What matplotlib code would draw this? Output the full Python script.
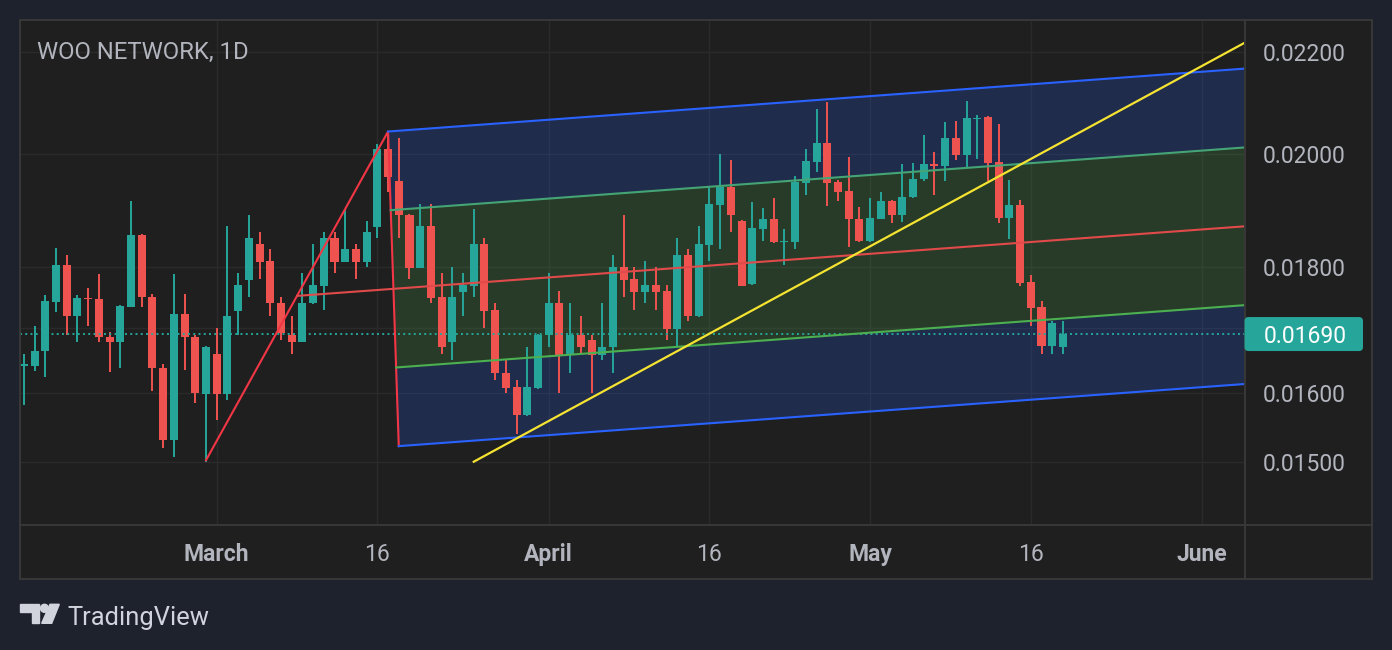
import numpy as np
import pandas as pd
import matplotlib
matplotlib.use("Agg")
import matplotlib.pyplot as plt
import matplotlib.dates as mdates
import matplotlib.transforms as mtransforms
from matplotlib.patches import FancyBboxPatch, Rectangle, Polygon, Ellipse
from matplotlib.lines import Line2D
from matplotlib.ticker import NullLocator, NullFormatter

plt.rcParams['font.family'] = ['Roboto', 'DejaVu Sans']

# WOO NETWORK daily candles
dates = pd.date_range("2024-02-12", "2024-05-19", freq="D")
opens = [0.01641, 0.01641, 0.01663, 0.01742, 0.01803, 0.01718, 0.01748, 0.01747, 0.01686, 0.01678,
         0.01734, 0.01854, 0.01750, 0.01638, 0.01531, 0.01722, 0.01686, 0.01598, 0.01659, 0.01598,
         0.01727, 0.01778, 0.01839, 0.01810, 0.01740, 0.01689, 0.01678, 0.01739, 0.01768, 0.01849,
         0.01808, 0.01830, 0.01808, 0.01868, 0.02009, 0.01950, 0.01889, 0.01798, 0.01870, 0.01750,
         0.01678, 0.01758, 0.01768, 0.01839, 0.01729, 0.01630, 0.01609, 0.01567, 0.01607, 0.01688,
         0.01740, 0.01658, 0.01689, 0.01680, 0.01658, 0.01669, 0.01800, 0.01780, 0.01758, 0.01770,
         0.01760, 0.01698, 0.01820, 0.01718, 0.01837, 0.01907, 0.01939, 0.01879, 0.01771, 0.01865,
         0.01882, 0.01842, 0.01841, 0.01947, 0.01985, 0.02021, 0.01948, 0.01932, 0.01882, 0.01843,
         0.01882, 0.01914, 0.01889, 0.01920, 0.01953, 0.01981, 0.01978, 0.02030, 0.01998, 0.02066,
         0.02069, 0.01985, 0.01884, 0.01907, 0.01775, 0.01733, 0.01672, 0.01670]
highs = [0.01659, 0.01703, 0.01752, 0.01832, 0.01820, 0.01753, 0.01765, 0.01788, 0.01694, 0.01736,
         0.01914, 0.01855, 0.01755, 0.01644, 0.01788, 0.01755, 0.01689, 0.01671, 0.01700, 0.01870,
         0.01790, 0.01889, 0.01859, 0.01830, 0.01750, 0.01719, 0.01790, 0.01839, 0.01859, 0.01859,
         0.01900, 0.01839, 0.01879, 0.02019, 0.02042, 0.02030, 0.01890, 0.01909, 0.01909, 0.01790,
         0.01800, 0.01790, 0.01900, 0.01849, 0.01740, 0.01650, 0.01619, 0.01670, 0.01690, 0.01790,
         0.01760, 0.01740, 0.01719, 0.01689, 0.01740, 0.01820, 0.01889, 0.01800, 0.01810, 0.01800,
         0.01770, 0.01849, 0.01830, 0.01870, 0.01939, 0.02000, 0.01989, 0.01880, 0.01911, 0.01902,
         0.01919, 0.01865, 0.01959, 0.02008, 0.02086, 0.02100, 0.01952, 0.01994, 0.01903, 0.01919,
         0.01930, 0.01916, 0.01981, 0.01983, 0.02036, 0.02004, 0.02061, 0.02063, 0.02102, 0.02074,
         0.02071, 0.02057, 0.01952, 0.01916, 0.01786, 0.01743, 0.01710, 0.01711]
lows = [0.01581, 0.01632, 0.01623, 0.01725, 0.01689, 0.01677, 0.01702, 0.01678, 0.01631, 0.01638,
        0.01733, 0.01733, 0.01603, 0.01520, 0.01507, 0.01634, 0.01584, 0.01500, 0.01560, 0.01589,
        0.01689, 0.01750, 0.01780, 0.01719, 0.01680, 0.01659, 0.01677, 0.01738, 0.01729, 0.01790,
        0.01807, 0.01780, 0.01800, 0.01849, 0.01930, 0.01849, 0.01780, 0.01797, 0.01740, 0.01659,
        0.01650, 0.01719, 0.01750, 0.01700, 0.01619, 0.01600, 0.01540, 0.01566, 0.01606, 0.01670,
        0.01600, 0.01630, 0.01659, 0.01600, 0.01650, 0.01630, 0.01750, 0.01729, 0.01740, 0.01729,
        0.01680, 0.01670, 0.01710, 0.01717, 0.01810, 0.01830, 0.01859, 0.01767, 0.01770, 0.01844,
        0.01840, 0.01803, 0.01829, 0.01925, 0.01967, 0.01905, 0.01914, 0.01834, 0.01841, 0.01842,
        0.01881, 0.01874, 0.01877, 0.01919, 0.01949, 0.01925, 0.01949, 0.01989, 0.01976, 0.01991,
        0.01950, 0.01874, 0.01847, 0.01768, 0.01702, 0.01659, 0.01659, 0.01659]
closes = [0.01643, 0.01664, 0.01743, 0.01803, 0.01718, 0.01748, 0.01746, 0.01685, 0.01678, 0.01735,
          0.01854, 0.01749, 0.01637, 0.01531, 0.01722, 0.01685, 0.01600, 0.01670, 0.01598, 0.01719,
          0.01770, 0.01849, 0.01808, 0.01739, 0.01691, 0.01678, 0.01740, 0.01770, 0.01849, 0.01808,
          0.01830, 0.01808, 0.01859, 0.02009, 0.01957, 0.01888, 0.01798, 0.01870, 0.01748, 0.01669,
          0.01750, 0.01770, 0.01839, 0.01727, 0.01629, 0.01607, 0.01567, 0.01609, 0.01689, 0.01740,
          0.01658, 0.01689, 0.01669, 0.01658, 0.01670, 0.01800, 0.01778, 0.01758, 0.01770, 0.01758,
          0.01698, 0.01820, 0.01718, 0.01839, 0.01909, 0.01939, 0.01888, 0.01768, 0.01866, 0.01882,
          0.01841, 0.01843, 0.01948, 0.01987, 0.02021, 0.01947, 0.01930, 0.01881, 0.01843, 0.01884,
          0.01914, 0.01889, 0.01921, 0.01954, 0.01981, 0.01978, 0.02030, 0.01998, 0.02067, 0.02068,
          0.01983, 0.01884, 0.01907, 0.01773, 0.01732, 0.01672, 0.01708, 0.01690]

# drawings: modified Schiff pitchfork (A, B, C) and a trend line
fork_dates = ["2024-02-29", "2024-03-17", "2024-03-18"]
fork_prices = [0.01502, 0.02042, 0.01522]
trend_dates = ["2024-03-25", "2024-05-19"]
trend_prices = [0.01500, 0.02023]

price_ticks = [0.015, 0.016, 0.017, 0.018, 0.020, 0.022]
tick_dates = ["2024-03-01", "2024-03-16", "2024-04-01", "2024-04-16",
              "2024-05-01", "2024-05-16", "2024-06-01"]
tick_labels = ["March", "16", "April", "16", "May", "16", "June"]

BG = '#1f1f1f'
OUTER = '#1e222d'
TEXT = '#b2b5be'
UP = '#26a69a'
DOWN = '#ef5350'
BORDER = '#383838'
RED = '#f23645'
BLUE = '#2962ff'
GREEN = '#4caf50'

W, H = 1392, 650
fig = plt.figure(figsize=(W / 100, H / 100), dpi=100, facecolor=OUTER)


def fx(px):
    return px / W


def fy(py):
    return 1 - py / H


fig.add_artist(Rectangle((fx(20), fy(579)), fx(1372) - fx(20), fy(20) - fy(579),
                         transform=fig.transFigure, facecolor=BG, edgecolor='none', zorder=-1))

ax = fig.add_axes([fx(20), fy(525), fx(1244.5) - fx(20), fy(20) - fy(525)])
ax.set_facecolor(BG)
for s in ax.spines.values():
    s.set_visible(False)
ax.set_yscale('log')

mar1 = mdates.date2num(pd.Timestamp("2024-03-01"))
x0, x1 = mar1 - 18.36, mar1 + 95.95

# candles
x = mdates.date2num(dates)
o, h, l, c = (np.array(v) for v in (opens, highs, lows, closes))
col = np.where(c >= o, UP, DOWN)
ax.vlines(x, l, h, colors=col, lw=1.4, zorder=3)
ax.bar(x, np.abs(c - o), width=0.75, bottom=np.minimum(o, c), color=col, zorder=4)

# pitchfork, built in (date, log price) space
fa, fb, fc = [np.array([mdates.date2num(pd.Timestamp(d)), np.log10(p)])
              for d, p in zip(fork_dates, fork_prices)]
start = (fa + fb) / 2
mid = (fb + fc) / 2
k = (mid[1] - start[1]) / (mid[0] - start[0])
up1, up5 = fb, mid + 0.5 * (fb - mid)
lo1, lo5 = fc, mid + 0.5 * (fc - mid)


def end_of(p):
    return p[1] + k * (x1 - p[0])


def band(p, q, color):
    ys = 10 ** np.array([p[1], q[1], end_of(q), end_of(p)])
    ax.fill([p[0], q[0], x1, x1], ys, color=color, alpha=0.2, lw=0, zorder=1)


def ray(p, color):
    ax.plot([p[0], x1], 10 ** np.array([p[1], end_of(p)]), color=color, lw=1.5, zorder=5)


band(up1, up5, BLUE)
band(up5, lo5, GREEN)
band(lo5, lo1, BLUE)
ax.plot([fa[0], fb[0], fc[0]], 10 ** np.array([fa[1], fb[1], fc[1]]), color=RED, lw=1.5, zorder=5)
ray(start, '#e04a4a')
ray(up1, BLUE)
ray(lo1, BLUE)
ray(up5, '#45a476')
ray(lo5, GREEN)

# trend line extended to the right edge
t1, t2 = [np.array([mdates.date2num(pd.Timestamp(d)), np.log10(p)])
          for d, p in zip(trend_dates, trend_prices)]
kt = (t2[1] - t1[1]) / (t2[0] - t1[0])
ax.plot([t1[0], x1], 10 ** np.array([t1[1], t1[1] + kt * (x1 - t1[0])]),
        color='#f5e332', lw=1.6, zorder=5)

# last price line
ax.axhline(closes[-1], color=UP, lw=1.4, ls=(0, (1, 1.7)), zorder=4.5)

ax.set_xlim(x0, x1)
ax.set_ylim(0.014139, 0.022662)

ax.set_axisbelow(True)
ax.grid(True, color='#2a2a2a', lw=1.0)
ax.yaxis.tick_right()
ax.set_yticks(price_ticks, ['' if abs(np.log(p / closes[-1])) < 0.03 else f'{p:.5f}'
                            for p in price_ticks])
ax.yaxis.set_minor_locator(NullLocator())
ax.yaxis.set_minor_formatter(NullFormatter())
ax.set_xticks(mdates.date2num(pd.to_datetime(tick_dates)), tick_labels)
ax.tick_params(axis='y', length=0, pad=13.5, labelsize=16.5, labelcolor=TEXT)
ax.tick_params(axis='x', length=0, pad=26, labelsize=16.5, labelcolor=TEXT)
for lbl in ax.get_xticklabels():
    lbl.set_va('baseline')
    if not lbl.get_text().isdigit():
        lbl.set_fontweight('bold')

# price tag on the axis
blend = mtransforms.blended_transform_factory(ax.transAxes, ax.transData)
anchor = fig.dpi_scale_trans + mtransforms.ScaledTranslation(1.0, closes[-1], blend)
fig.add_artist(FancyBboxPatch((0, -0.17), 1.185, 0.34, boxstyle='round,pad=0,rounding_size=0.04',
                              transform=anchor, facecolor=UP, edgecolor='none', zorder=6))
fig.text(0.195, 0, f'{closes[-1]:.5f}', transform=anchor, color='white', fontsize=16.5,
         ha='left', va='center_baseline', zorder=7)

# panel borders
for xa, ya, xb, yb in [(20, 20, 1372, 20), (20, 579, 1372, 579), (20, 20, 20, 579),
                       (1372, 20, 1372, 579), (1244.5, 20, 1244.5, 579), (20, 525, 1372, 525)]:
    fig.add_artist(Line2D([fx(xa), fx(xb)], [fy(ya), fy(yb)], transform=fig.transFigure,
                          color=BORDER, lw=1.4, zorder=3))

fig.text(fx(37), fy(59.3), 'WOO NETWORK, 1D', color=TEXT, fontsize=17.2, va='baseline')

# TradingView logo
LOGO = '#d1d4dc'
fig.add_artist(Polygon([(fx(px), fy(py)) for px, py in
                        [(20, 604.3), (39.3, 604.3), (39.3, 623.3), (31.7, 623.3), (31.7, 612.3), (20, 612.3)]],
                       transform=fig.transFigure, color=LOGO))
fig.add_artist(Ellipse((fx(44.5), fy(608.3)), 8 / W, 8 / H, transform=fig.transFigure, color=LOGO))
fig.add_artist(Polygon([(fx(px), fy(py)) for px, py in
                        [(50, 604.3), (59.3, 604.3), (51.7, 623.3), (41.7, 623.3)]],
                       transform=fig.transFigure, color=LOGO))
fig.text(fx(67), fy(625), 'TradingView', color=LOGO, fontsize=18.4, va='baseline')

fig.savefig('out.png', dpi=100, facecolor=OUTER)
